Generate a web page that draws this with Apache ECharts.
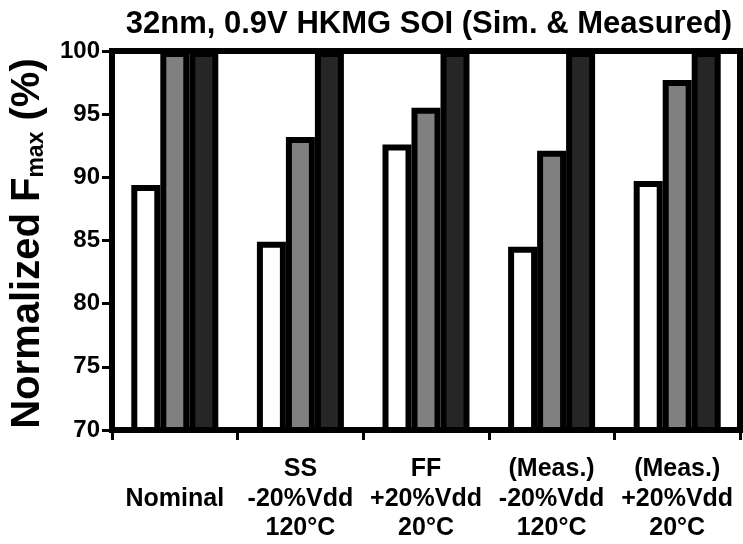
<!DOCTYPE html>
<html>
<head>
<meta charset="utf-8">
<script src="https://cdn.jsdelivr.net/npm/echarts@6/dist/echarts.min.js"></script>
<style>html,body{margin:0;padding:0;background:#fff}#c{width:743px;height:544px}</style>
</head>
<body>
<div id="c"></div>
<script>
const titleText = '32nm, 0.9V HKMG SOI (Sim. & Measured)';
const categories = ['Nominal', 'SS\n-20%Vdd\n120°C', 'FF\n+20%Vdd\n20°C', '(Meas.)\n-20%Vdd\n120°C', '(Meas.)\n+20%Vdd\n20°C'];
const whiteValues = [89.4, 84.9, 92.6, 84.5, 89.7];
const grayValues = [100, 93.2, 95.5, 92.1, 97.7];
const darkValues = [100, 100, 100, 100, 100];
const yTicks = [70, 75, 80, 85, 90, 95, 100];

const FONT = '"Liberation Sans", Arial, Helvetica, sans-serif';
const chart = echarts.init(document.getElementById('c'), null, {renderer: 'canvas'});

function barSeries(data, color) {
  return {
    type: 'bar',
    data: data,
    barWidth: 29,
    barGap: '0%',
    itemStyle: {color: color, borderColor: '#000', borderWidth: 6},
    emphasis: {disabled: true},
    animation: false
  };
}

chart.setOption({
  animation: false,
  backgroundColor: '#fff',
  title: {
    text: titleText,
    left: 424,
    textAlign: 'center',
    top: 4,
    textStyle: {fontFamily: FONT, fontWeight: 'bold', fontSize: 31, color: '#000'}
  },
  grid: {
    left: 110, right: 3, top: 51, bottom: 114,
    show: true, borderColor: '#000', borderWidth: 6, backgroundColor: 'transparent'
  },
  xAxis: {
    type: 'category',
    data: categories,
    axisLine: {lineStyle: {color: '#000', width: 6}},
    axisTick: {show: true, length: 10, lineStyle: {color: '#000', width: 3}},
    axisLabel: {
      interval: 0,
      fontFamily: FONT, fontWeight: 'bold', fontSize: 25, color: '#000',
      lineHeight: 29.5, verticalAlign: 'middle', margin: 69
    }
  },
  yAxis: {
    type: 'value',
    min: yTicks[0], max: yTicks[yTicks.length - 1], interval: 5,
    splitLine: {show: false},
    axisLine: {show: true, lineStyle: {color: '#000', width: 6}},
    axisTick: {show: true, length: 10, lineStyle: {color: '#000', width: 3}},
    axisLabel: {fontFamily: FONT, fontWeight: 'bold', fontSize: 24, color: '#000', margin: 12},
    name: '{a|Normalized F}{b|max}{a| (%)}',
    nameLocation: 'middle',
    nameGap: 64,
    nameTextStyle: {
      padding: [0, 6, 0, 0],
      rich: {
        a: {fontFamily: FONT, fontWeight: 'bold', fontSize: 40, color: '#000'},
        b: {fontFamily: FONT, fontWeight: 'bold', fontSize: 23, color: '#000', verticalAlign: 'bottom'}
      }
    }
  },
  series: [
    barSeries(whiteValues, '#ffffff'),
    barSeries(grayValues, '#808080'),
    barSeries(darkValues, '#262626')
  ]
});
</script>
</body>
</html>
